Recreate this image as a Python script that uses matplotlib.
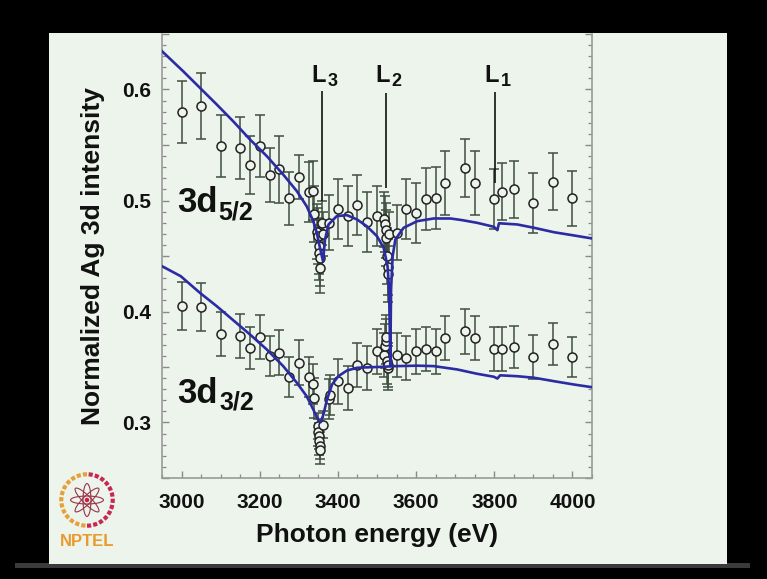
import matplotlib.pyplot as plt
from matplotlib.patches import Rectangle, Ellipse
from matplotlib.ticker import MultipleLocator, FuncFormatter
import numpy as np

plt.rcParams['font.family'] = ['Liberation Sans', 'DejaVu Sans']

SLIDE = '#edf4ec'
BLUE = '#2b2ba3'

# measured points, 3d5/2 line
e52 = [3000, 3050, 3100, 3150, 3175, 3200, 3225, 3250, 3275, 3300, 3325, 3335, 3340,
       3347, 3349, 3351, 3352, 3353, 3354, 3360, 3362,
       3378, 3400, 3425, 3450, 3475, 3500,
       3517, 3520, 3522, 3524, 3526, 3527, 3528, 3530,
       3550, 3575, 3600, 3625, 3650, 3675, 3725, 3750, 3800, 3820, 3850, 3900, 3950, 4000]
v52 = [0.580, 0.585, 0.549, 0.547, 0.532, 0.549, 0.523, 0.528, 0.502, 0.521, 0.508, 0.509, 0.488,
       0.472, 0.468, 0.459, 0.453, 0.448, 0.439, 0.480, 0.470,
       0.480, 0.492, 0.486, 0.496, 0.481, 0.486,
       0.483, 0.479, 0.473, 0.466, 0.450, 0.440, 0.434, 0.470,
       0.471, 0.492, 0.489, 0.501, 0.502, 0.516, 0.529, 0.516, 0.501, 0.508, 0.510, 0.498, 0.517, 0.502]
err52 = [0.028, 0.030, 0.028, 0.028, 0.026, 0.028, 0.024, 0.030, 0.024, 0.020, 0.027, 0.027, 0.025,
         0.025, 0.025, 0.025, 0.025, 0.025, 0.022, 0.020, 0.020,
         0.025, 0.027, 0.027, 0.027, 0.027, 0.027,
         0.025, 0.025, 0.025, 0.025, 0.025, 0.025, 0.025, 0.020,
         0.025, 0.027, 0.027, 0.028, 0.028, 0.029, 0.026, 0.029, 0.027, 0.026, 0.026, 0.027, 0.026, 0.025]

# measured points, 3d3/2 line
e32 = [3000, 3050, 3100, 3150, 3175, 3200, 3225, 3250, 3275, 3300, 3325, 3335, 3340,
       3348, 3350, 3351, 3352, 3353, 3354, 3362,
       3378, 3380, 3400, 3425, 3450, 3475, 3500,
       3517, 3520, 3522, 3524, 3526, 3527, 3528,
       3550, 3575, 3600, 3625, 3650, 3675, 3725, 3750, 3800, 3820, 3850, 3900, 3950, 4000]
v32 = [0.405, 0.404, 0.380, 0.378, 0.367, 0.377, 0.360, 0.363, 0.341, 0.354, 0.341, 0.335, 0.322,
       0.297, 0.291, 0.288, 0.283, 0.279, 0.275, 0.298,
       0.321, 0.325, 0.337, 0.331, 0.352, 0.349, 0.364,
       0.361, 0.369, 0.373, 0.377, 0.355, 0.349, 0.352,
       0.361, 0.358, 0.364, 0.366, 0.364, 0.376, 0.382, 0.376, 0.366, 0.366, 0.368, 0.359, 0.371, 0.359]
err32 = [0.022, 0.022, 0.020, 0.020, 0.019, 0.020, 0.018, 0.020, 0.018, 0.020, 0.018, 0.018, 0.018,
         0.012, 0.012, 0.012, 0.012, 0.012, 0.012, 0.012,
         0.018, 0.018, 0.020, 0.020, 0.020, 0.020, 0.020,
         0.020, 0.020, 0.020, 0.020, 0.020, 0.020, 0.020,
         0.020, 0.020, 0.020, 0.020, 0.020, 0.020, 0.020, 0.020, 0.020, 0.020, 0.019, 0.020, 0.019, 0.018]

# model curves
ce52 = [2950, 3004, 3047, 3090, 3132, 3175, 3218, 3260, 3295, 3320, 3337, 3346, 3355, 3362,
        3367, 3376, 3397, 3423, 3449, 3474, 3500, 3517, 3527, 3531, 3534, 3536, 3540, 3547,
        3568, 3603, 3645, 3688, 3718, 3756, 3799, 3808, 3812, 3820, 3859, 3902, 3953, 4004, 4050]
cv52 = [0.6345, 0.6165, 0.6015, 0.5865, 0.5714, 0.5550, 0.5400, 0.5234, 0.5084, 0.4949, 0.4814,
        0.4709, 0.4559, 0.4453, 0.4649, 0.4784, 0.4859, 0.4868, 0.4829, 0.4768, 0.4678, 0.4574,
        0.4408, 0.4200, 0.3520, 0.4200, 0.4498, 0.4649, 0.4754, 0.4814, 0.4838, 0.4838, 0.4823,
        0.4799, 0.4763, 0.4733, 0.4795, 0.4793, 0.4784, 0.4754, 0.4714, 0.4685, 0.4658]
ce32 = [2950, 2998, 3047, 3090, 3132, 3175, 3218, 3260, 3295, 3320, 3337, 3349, 3356, 3363,
        3372, 3385, 3401, 3423, 3449, 3483, 3517, 3530, 3551, 3603, 3645, 3705, 3756, 3799,
        3808, 3815, 3859, 3902, 3953, 4004, 4050]
cv32 = [0.4408, 0.4318, 0.4168, 0.4048, 0.3922, 0.3793, 0.3658, 0.3508, 0.3358, 0.3237, 0.3117,
        0.3027, 0.3003, 0.3072, 0.3207, 0.3342, 0.3417, 0.3468, 0.3493, 0.3498, 0.3502, 0.3505,
        0.3508, 0.3512, 0.3508, 0.3478, 0.3439, 0.3412, 0.3396, 0.3425, 0.3417, 0.3403, 0.3372,
        0.3342, 0.3318]

# absorption edges
edge_e = [3360, 3524, 3803]
edge_lo = [0.500, 0.511, 0.516]
edge_hi = [0.599, 0.597, 0.598]
edge_sub = ['3', '2', '1']

W, H = 767, 579
fig = plt.figure(figsize=(W / 100, H / 100), dpi=100, facecolor='black')

# slide
fig.patches.append(Rectangle((15 / W, 1 - 568 / H), 735 / W, 5 / H, transform=fig.transFigure,
                             facecolor='#3a3a3a', edgecolor='none', zorder=-2))
fig.patches.append(Rectangle((49 / W, 1 - 564 / H), 678 / W, 531 / H, transform=fig.transFigure,
                             facecolor=SLIDE, edgecolor='none', zorder=-1))

ax = fig.add_axes([162 / W, 1 - 478 / H, 430 / W, 444 / H])
ax.set_facecolor(SLIDE)
ax.set_xlim(2950, 4050)
ax.set_ylim(0.25, 0.65)

for x, y, e in [(e52, v52, err52), (e32, v32, err32)]:
    ax.errorbar(x, y, yerr=e, fmt='o', ms=6.5, mfc=SLIDE, mec='#222222', mew=1.1,
                ecolor='#3f4f3f', elinewidth=1.1, capsize=3.5, capthick=1.1, zorder=2)
ax.plot(ce52, cv52, color=BLUE, lw=1.9, zorder=3)
ax.plot(ce32, cv32, color=BLUE, lw=1.9, zorder=3)

ax.vlines(edge_e, edge_lo, edge_hi, color='#111111', lw=1.2, zorder=4)
for e, s in zip(edge_e, edge_sub):
    ax.text(e + 8, 0.6066, 'L', ha='right', va='baseline', fontsize=17,
            fontweight='bold', color='#111111')
    ax.text(e + 14, 0.6028, s, ha='left', va='baseline', fontsize=13,
            fontweight='bold', color='#111111')

ax.text(2989, 0.4895, '3d', ha='left', va='baseline', fontsize=25, fontweight='bold', color='#111111')
ax.text(3094, 0.4832, '5/2', ha='left', va='baseline', fontsize=18, fontweight='bold', color='#111111')
ax.text(2988, 0.3180, '3d', ha='left', va='baseline', fontsize=25, fontweight='bold', color='#111111')
ax.text(3097, 0.3120, '3/2', ha='left', va='baseline', fontsize=18, fontweight='bold', color='#111111')

ax.spines['top'].set_visible(False)
for s in ['left', 'right', 'bottom']:
    ax.spines[s].set_color('#9a9a9a')
    ax.spines[s].set_linewidth(1.2)

ax.xaxis.set_major_locator(MultipleLocator(200))
ax.xaxis.set_minor_locator(MultipleLocator(50))
ax.yaxis.set_major_locator(MultipleLocator(0.05))
ax.yaxis.set_minor_locator(MultipleLocator(0.01))
ax.yaxis.set_major_formatter(FuncFormatter(
    lambda v, p: f'{v:.1f}' if abs(v * 10 - round(v * 10)) < 1e-6 else ''))
ax.xaxis.set_major_formatter(FuncFormatter(lambda v, p: f'{v:.0f}'))

ax.tick_params(which='both', direction='in', color='#8a8a8a', right=True, top=False)
ax.tick_params(which='major', length=5, width=1)
ax.tick_params(which='minor', length=3, width=0.9)
ax.tick_params(axis='y', which='major', pad=7.5, labelsize=15)
ax.tick_params(axis='x', which='major', pad=10.5, labelsize=15)
for lab in ax.get_xticklabels() + ax.get_yticklabels():
    lab.set_fontweight('bold')
    lab.set_color('#111111')

ax.set_xlabel('Photon energy (eV)', fontsize=19, fontweight='bold', color='#111111', labelpad=8)
ax.set_ylabel('Normalized Ag 3d intensity', fontsize=19, fontweight='bold', color='#111111',
              labelpad=13)

# NPTEL logo
logo = fig.add_axes([57 / W, 1 - 530 / H, 60 / W, 60 / H])
logo.set_xlim(-1.05, 1.05)
logo.set_ylim(-1.05, 1.05)
logo.set_aspect('equal')
logo.axis('off')
t = np.linspace(np.pi / 2, 3 * np.pi / 2, 60)
logo.plot(0.9 * np.cos(t), 0.9 * np.sin(t), color='#e6a03a', lw=3, ls=(0, (1, 0.5)))
t = np.linspace(-np.pi / 2, np.pi / 2, 60)
logo.plot(0.9 * np.cos(t), 0.9 * np.sin(t), color='#c8284f', lw=3, ls=(0, (1, 0.5)))
for ang in [0, 45, 90, 135]:
    logo.add_patch(Ellipse((0, 0), 0.28, 1.15, angle=ang, facecolor='none',
                           edgecolor='#9a3448', lw=0.8))
logo.add_patch(Ellipse((0, 0), 0.16, 0.16, facecolor='#d02040', edgecolor='none'))
fig.text(87 / W, 1 - 541 / H, 'NPTEL', ha='center', va='center', fontsize=12,
         fontweight='bold', color='#e89a2c')

fig.savefig('out.png', dpi=100, facecolor='black')
